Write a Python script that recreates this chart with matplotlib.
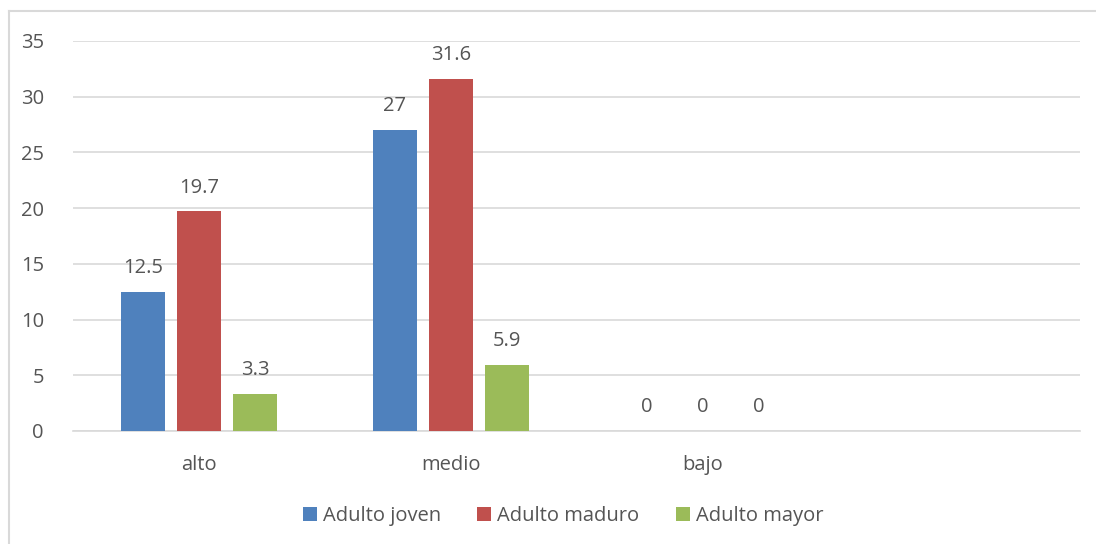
import matplotlib
matplotlib.use("Agg")
import matplotlib.pyplot as plt
from matplotlib.lines import Line2D
import numpy as np

categories = ["alto", "medio", "bajo", ""]
series_names = ["Adulto joven", "Adulto maduro", "Adulto mayor"]
adulto_joven = [12.5, 27, 0]
adulto_maduro = [19.7, 31.6, 0]
adulto_mayor = [3.3, 5.9, 0]
yticks = [0, 5, 10, 15, 20, 25, 30, 35]

colors = ["#4F81BD", "#C0504D", "#9BBB59"]
text_color = "#555555"
grid_color = "#D9D9D9"
fs = 14.5

plt.rcParams["font.family"] = ["Open Sans", "DejaVu Sans"]

fig = plt.figure(figsize=(10.96, 5.44), dpi=100)
ax = fig.add_axes([73 / 1096, 1 - 431 / 544, (1080 - 73) / 1096, (431 - 41) / 544])

# chart frame: top and left edges
fig.lines.append(Line2D([9 / 1096, 1.0], [1 - 11 / 544] * 2, transform=fig.transFigure,
                        color=grid_color, linewidth=1.5))
fig.lines.append(Line2D([9 / 1096] * 2, [0.0, 1 - 11 / 544], transform=fig.transFigure,
                        color=grid_color, linewidth=1.5))

x = np.arange(len(categories))
width = 0.175
step = 0.2225
all_series = [adulto_joven, adulto_maduro, adulto_mayor]
for i, (vals, name, c) in enumerate(zip(all_series, series_names, colors)):
    pos = x[:len(vals)] + (i - 1) * step
    bars = ax.bar(pos, vals, width=width, color=c, label=name, zorder=3)
    for b, v in zip(bars, vals):
        ax.annotate(f"{v:g}", (b.get_x() + b.get_width() / 2, v),
                    xytext=(0, 10), textcoords="offset points",
                    ha="center", va="bottom", fontsize=fs, color=text_color)

ax.set_xlim(-0.5, len(categories) - 0.5)
ax.set_ylim(0, 35)
ax.set_yticks(yticks)
ax.set_xticks(x)
ax.set_xticklabels(categories)
ax.yaxis.grid(True, color=grid_color, linewidth=1.2, zorder=0)
ax.set_axisbelow(True)
for s in ["top", "right", "left"]:
    ax.spines[s].set_visible(False)
ax.spines["bottom"].set_color(grid_color)
ax.spines["bottom"].set_linewidth(1.2)
ax.tick_params(axis="both", length=0, labelsize=fs, labelcolor=text_color)
ax.tick_params(axis="y", pad=21)
ax.tick_params(axis="x", pad=17)

ax.legend(loc="center", bbox_to_anchor=(563 / 1096, 1 - 516 / 544),
          bbox_transform=fig.transFigure, ncol=3, frameon=False,
          fontsize=fs, labelcolor=text_color, handlelength=0.7,
          handleheight=0.7, handletextpad=0.3, columnspacing=1.8)

fig.savefig("out.png", dpi=100)
